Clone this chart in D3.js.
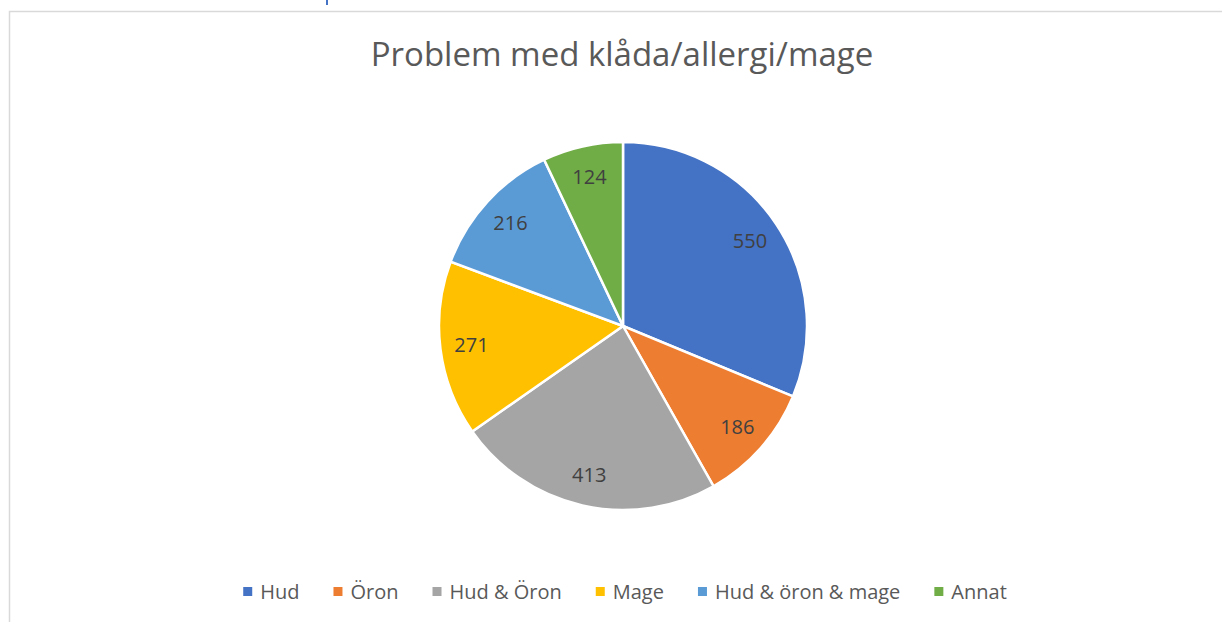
<!DOCTYPE html>
<html>
<head>
<meta charset="utf-8">
<script src="https://cdn.jsdelivr.net/npm/d3@7"></script>
<style>
  body { margin: 0; background: #fff; }
  svg { display: block; font-family: "Open Sans", "Liberation Sans", sans-serif; }
</style>
</head>
<body>
<svg id="chart" width="1222" height="622"></svg>
<script>
// données
const categories = ["Hud", "Öron", "Hud & Öron", "Mage", "Hud & öron & mage", "Annat"];
const valeurs = [550, 186, 413, 271, 216, 124];
const couleurs = ["#4472C4", "#ED7D31", "#A5A5A5", "#FFC000", "#5B9BD5", "#70AD47"];
const titre = "Problem med klåda/allergi/mage";

const svg = d3.select("#chart");

// cadre de la zone du graphique
svg.append("path")
    .attr("d", "M9.5,622 V11.5 H1222")
    .attr("fill", "none")
    .attr("stroke", "#d9d9d9")
    .attr("stroke-width", 1.5);

// petit trait bleu en haut
svg.append("rect")
    .attr("x", 326).attr("y", 0)
    .attr("width", 2).attr("height", 5)
    .attr("fill", "#4472C4");

// titre
svg.append("text")
    .attr("x", 622)
    .attr("y", 66)
    .attr("text-anchor", "middle")
    .style("font-size", "33px")
    .style("fill", "#595959")
    .text(titre);

const cx = 623, cy = 326, rayon = 184;

const data = categories.map((c, i) => ({ cat: c, val: valeurs[i], col: couleurs[i] }));
const pie = d3.pie().value(d => d.val).sort(null);
const arc = d3.arc().innerRadius(0).outerRadius(rayon);
const arcLabel = d3.arc().innerRadius(rayon * 0.83).outerRadius(rayon * 0.83);

const g = svg.append("g").attr("transform", `translate(${cx},${cy})`);

g.selectAll(".part")
    .data(pie(data))
    .join("path")
    .attr("class", "part")
    .attr("d", arc)
    .attr("fill", d => d.data.col)
    .attr("stroke", "#fff")
    .attr("stroke-width", 2.5);

g.selectAll(".etiquette")
    .data(pie(data))
    .join("text")
    .attr("class", "etiquette")
    .attr("transform", d => {
        const p = arcLabel.centroid(d);
        return `translate(${p[0]},${p[1]})`;
    })
    .attr("text-anchor", "middle")
    .attr("dy", "0.35em")
    .style("font-size", "20px")
    .style("fill", "#404040")
    .text(d => d.data.val);

// légende
const legende = svg.append("g").attr("class", "legende");
const items = legende.selectAll(".item")
    .data(data)
    .join("g")
    .attr("class", "item");

items.append("rect")
    .attr("width", 9).attr("height", 9)
    .attr("y", -5)
    .attr("fill", d => d.col);

items.append("text")
    .attr("x", 17)
    .attr("y", 0)
    .attr("dy", "0.35em")
    .style("font-size", "20px")
    .style("fill", "#595959")
    .text(d => d.cat);

let x = 0;
const pos = [];
items.each(function() {
    const w = d3.select(this).select("text").node().getComputedTextLength();
    pos.push(x);
    x += 17 + w + 34;
});
const largeur = x - 34;
const x0 = 625 - largeur / 2;
items.attr("transform", (d, i) => `translate(${x0 + pos[i]},592)`);
</script>
</body>
</html>
